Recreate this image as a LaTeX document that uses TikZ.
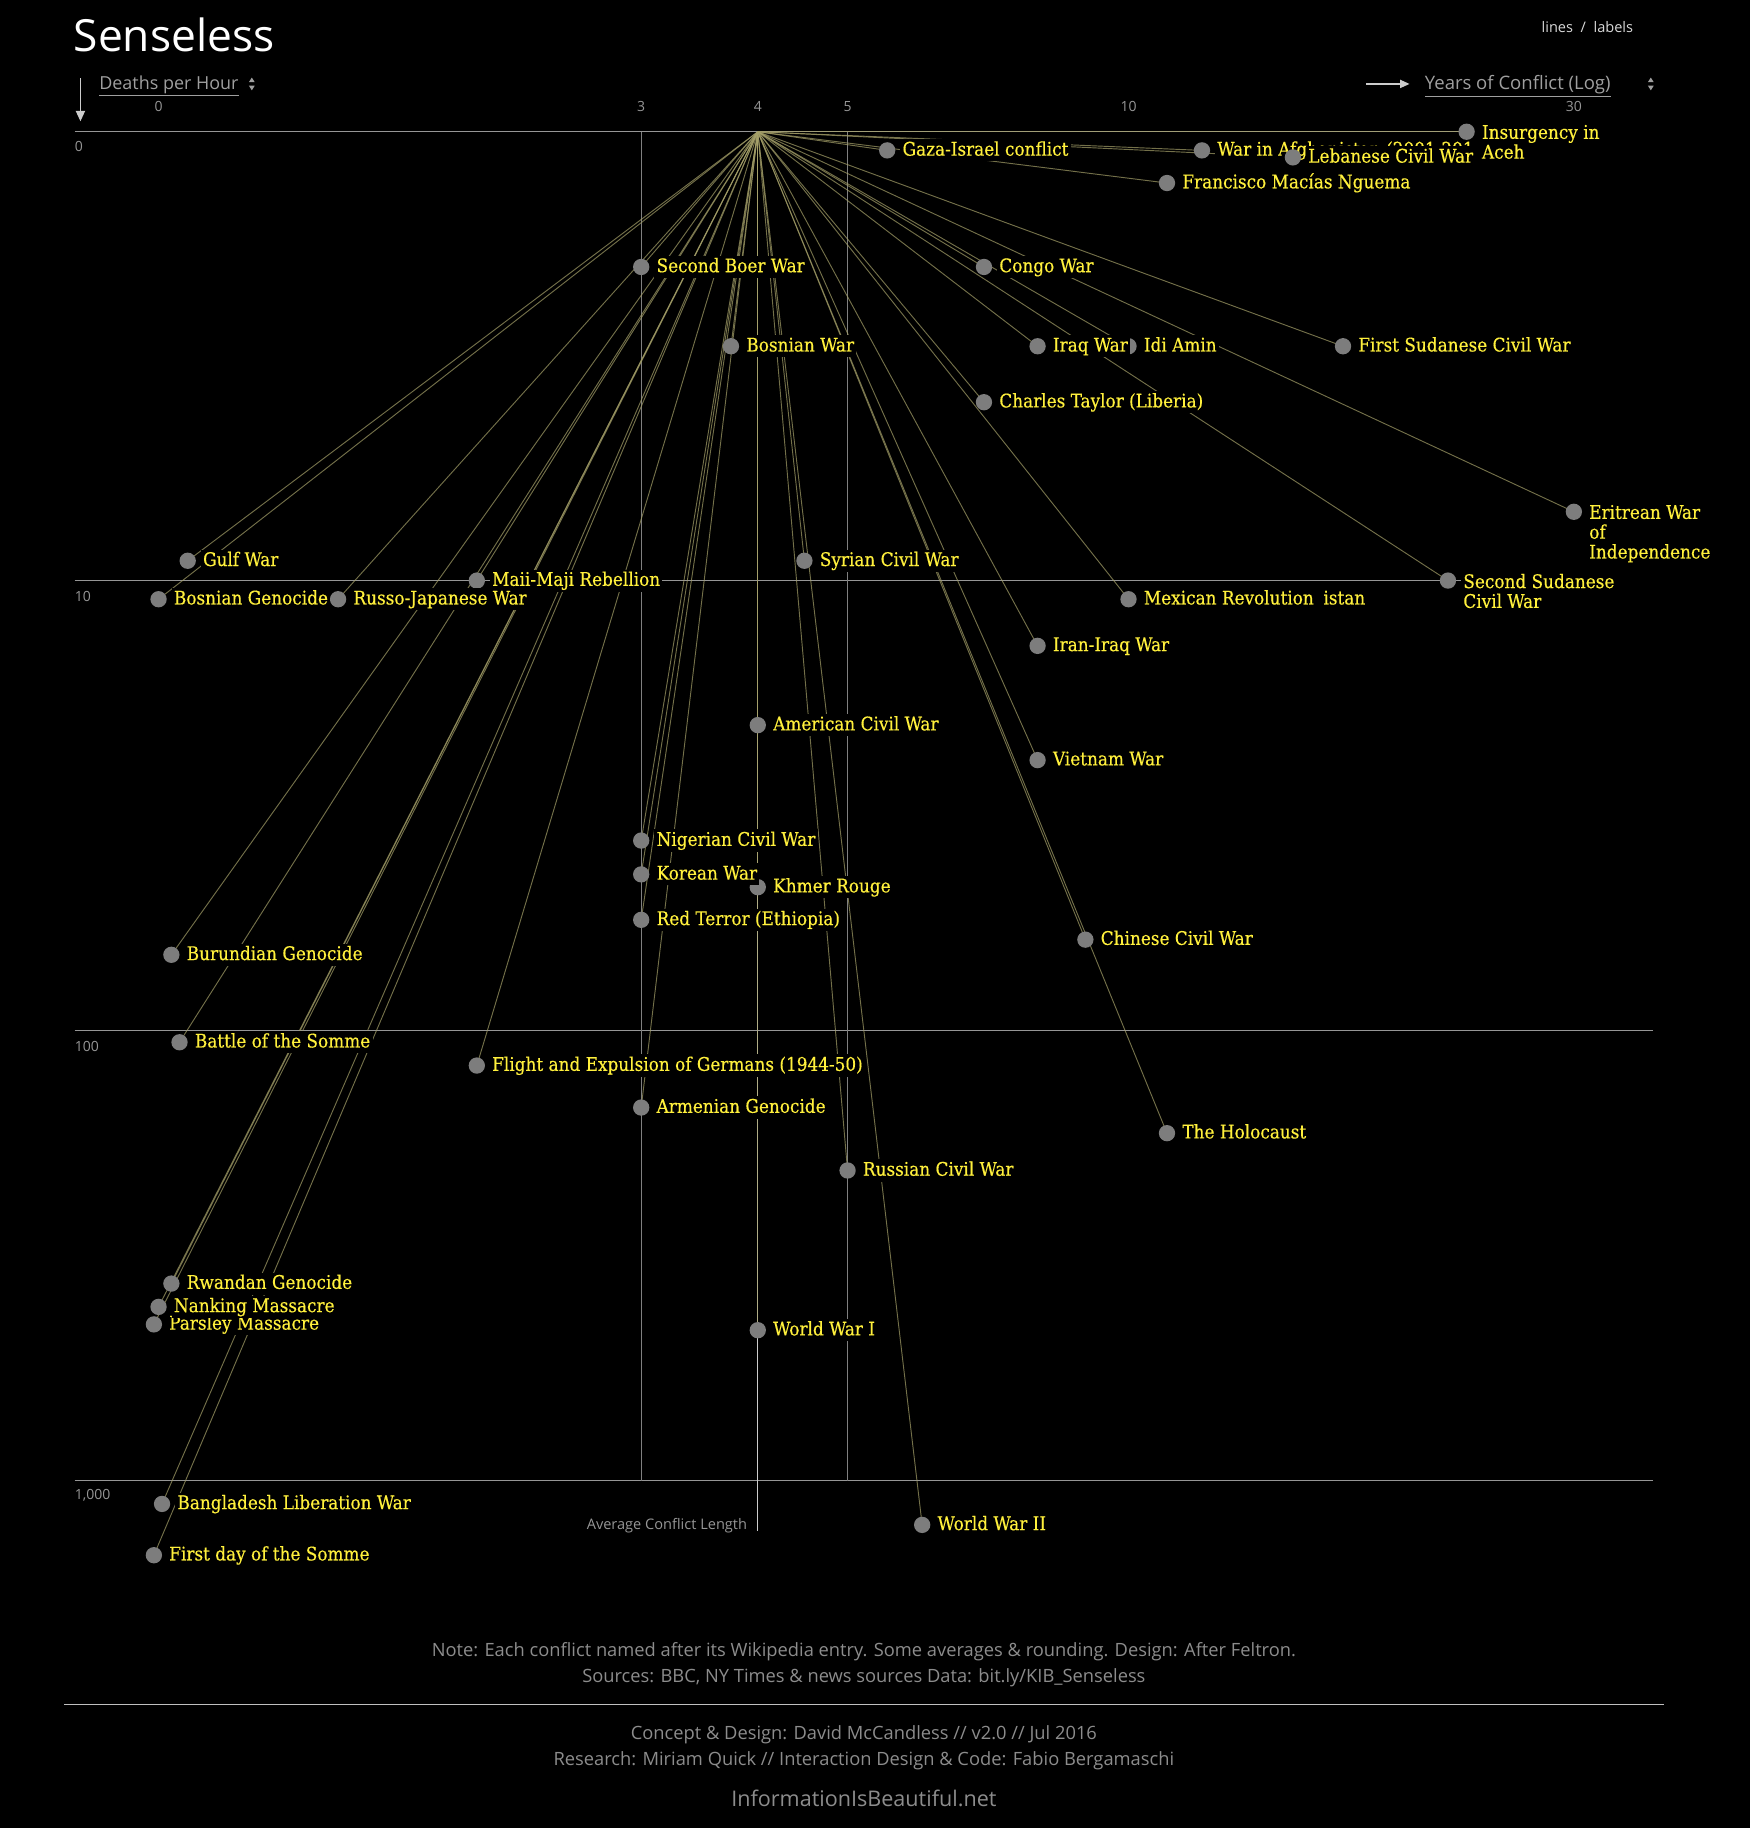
\documentclass[tikz,border=0pt]{standalone}
\usepackage{fontspec}
\setmainfont{Open Sans}
\newfontfamily\labserif[FakeBold=0.4]{DejaVu Serif Condensed}
\usetikzlibrary{arrows.meta}
\pgfdeclarelayer{bg}
\pgfdeclarelayer{rays}
\pgfsetlayers{bg,rays,main}
\definecolor{labyellow}{RGB}{255,240,60}
\definecolor{dotgrey}{RGB}{125,125,125}
\definecolor{raycol}{RGB}{165,160,105}
\definecolor{gridgrey}{RGB}{150,150,150}
\definecolor{axisgrey}{RGB}{150,150,150}
\definecolor{footgrey}{RGB}{140,140,140}
\newcommand\labfont{\labserif\fontsize{16.1pt}{17pt}\selectfont}
\tikzset{
  dot/.style={circle, fill=dotgrey, minimum size=14pt, inner sep=0pt},
  lab/.style={text=labyellow, fill=black, font=\labfont, inner sep=2pt, text height=12pt, text depth=3pt, anchor=west},
  mlab/.style={text=labyellow, fill=black, font=\labfont, inner sep=2pt, align=left, anchor=north west},
  ray/.style={draw=raycol, line width=0.8pt, opacity=0.7},
  hgrid/.style={draw=gridgrey, line width=1.1pt},
  vgrid/.style={draw=gridgrey!85!black, line width=0.8pt},
  axlab/.style={text=axisgrey, font=\fontsize{12pt}{14pt}\selectfont, inner sep=0pt},
  foot/.style={text=footgrey, font=\fontsize{15.7pt}{17pt}\selectfont, inner sep=0pt},
  hdr/.style={text=gray!75!white, font=\fontsize{15.9pt}{17pt}\selectfont, inner sep=0pt, anchor=west},
}
\newcommand\conf[4]{%
  \node[dot] (#1) at (#2,#3) {};
  \node[lab] (#1-l) at ([xshift=11pt]#1.center) {#4};
  \begin{pgfonlayer}{rays}\draw[ray] (hub) -- (#1.center);\end{pgfonlayer}}
\newcommand\confm[4]{%
  \node[dot] (#1) at (#2,#3) {};
  \node[mlab] (#1-l) at ([xshift=11pt,yshift=8pt]#1.center) {#4};
  \begin{pgfonlayer}{rays}\draw[ray] (hub) -- (#1.center);\end{pgfonlayer}}
\begin{document}
\begin{tikzpicture}[x=1pt,y=-1pt]
\begin{pgfonlayer}{bg}
  \fill[black] (0,0) rectangle (1501,1568);
  \draw[hgrid] (64,113) -- (1258,113);
  \draw[hgrid] (64,498) -- (1380,498);
  \draw[hgrid] (64,884) -- (1418,884);
  \draw[hgrid] (64,1270) -- (1418,1270);
  \draw[vgrid] (550,113) -- (550,1270);
  \draw[vgrid] (727,113) -- (727,1270);
  \draw[draw=white!80!black, line width=1.1pt] (650,113) -- (650,1313);
\end{pgfonlayer}
\coordinate (hub) at (650,113);
% header
\node[text=white, font=\fontsize{38pt}{40pt}\selectfont, anchor=base west, inner sep=0pt] (title) at (63,44) {Senseless};
\node[text=white!85!black, font=\fontsize{12.5pt}{14pt}\selectfont, anchor=east, inner sep=0pt] (toggle) at (1401,23) {lines\ \ /\ \ labels};
\node[hdr, font=\fontsize{15.4pt}{17pt}\selectfont] (dph) at (85,74) {\underline{Deaths per Hour}};
\node[hdr] (yoc) at (1222,74) {\underline{Years of Conflict (Log)}};
\coordinate (da0) at (69,67); \coordinate (da1) at (69,104);
\draw[white!80!black, line width=1pt, -{Triangle[width=8pt,length=9pt]}] (da0) -- (da1);
\coordinate (ra0) at (1172,72); \coordinate (ra1) at (1209,72);
\draw[white!80!black, line width=1pt, -{Triangle[width=7pt,length=8pt]}] (ra0) -- (ra1);
\fill[gray!75!white] (213.5,70.5) -- (218.5,70.5) -- (216,66.5) -- cycle;
\fill[gray!75!white] (213.5,73.5) -- (218.5,73.5) -- (216,77.5) -- cycle;
\fill[gray!75!white] (1413.5,70.5) -- (1418.5,70.5) -- (1416,66.5) -- cycle;
\fill[gray!75!white] (1413.5,73.5) -- (1418.5,73.5) -- (1416,77.5) -- cycle;
% axis labels
\node[axlab] (x0) at (136,91) {0};
\node[axlab] (x3) at (550,91) {3};
\node[axlab] (x4) at (650,91) {4};
\node[axlab] (x5) at (727,91) {5};
\node[axlab] (x10) at (968,91) {10};
\node[axlab] (x30) at (1350,91) {30};
\node[axlab, anchor=west] (y0) at (64,126) {0};
\node[axlab, anchor=west] (y10) at (64,512) {10};
\node[axlab, anchor=west] (y100) at (64,898) {100};
\node[axlab, anchor=west] (y1000) at (64,1283) {1,000};
\node[axlab, anchor=east, font=\fontsize{12.5pt}{14pt}\selectfont] (avg) at (641,1309) {Average Conflict Length};
% conflicts
\conf{gaza}{761}{129}{Gaza-Israel conflict}
\conf{afgh}{1031}{129}{War in Afghanistan (2001-2014)}
\conf{leb}{1109}{135}{Lebanese Civil War}
\node[dot] (aceh) at (1258,113) {};
\node[mlab, inner xsep=6pt] (aceh-l) at ([xshift=7pt,yshift=8pt]aceh.center) {Insurgency in\\Aceh};
\begin{pgfonlayer}{rays}\draw[ray] (hub) -- (aceh.center);\end{pgfonlayer}
\conf{fmn}{1001}{157}{Francisco Macías Nguema}
\conf{boer}{550}{229}{Second Boer War}
\conf{congo}{844}{229}{Congo War}
\conf{bosw}{627}{297}{Bosnian War}
\conf{idi}{968}{297}{Idi Amin}
\conf{iraq}{890}{297}{Iraq War}
\conf{fsud}{1152}{297}{First Sudanese Civil War}
\conf{ctay}{844}{345}{Charles Taylor (Liberia)}
\confm{erit}{1350}{439}{Eritrean War\\of\\Independence}
\conf{gulf}{161}{481}{Gulf War}
\conf{syr}{690}{481}{Syrian Civil War}
\conf{maji}{409}{498}{Maii-Maji Rebellion}
\confm{ssud}{1242}{498}{Second Sudanese\\Civil War}
\conf{russo}{290}{514}{Russo-Japanese War}
\conf{bosg}{136}{514}{Bosnian Genocide}
\node[lab] (sov-l) at (1133,514) {istan};
\conf{mex}{968}{514}{Mexican Revolution}
\conf{iran}{890}{554}{Iran-Iraq War}
\conf{amer}{650}{622}{American Civil War}
\conf{viet}{890}{652}{Vietnam War}
\conf{nig}{550}{721}{Nigerian Civil War}
\conf{khmer}{650}{761}{Khmer Rouge}
\conf{korea}{550}{750}{Korean War}
\conf{red}{550}{789}{Red Terror (Ethiopia)}
\conf{chin}{931}{806}{Chinese Civil War}
\conf{buru}{147}{819}{Burundian Genocide}
\conf{somme}{154}{894}{Battle of the Somme}
\conf{flight}{409}{914}{Flight and Expulsion of Germans (1944-50)}
\conf{arm}{550}{950}{Armenian Genocide}
\conf{holo}{1001}{972}{The Holocaust}
\conf{rcw}{727}{1004}{Russian Civil War}
\conf{rwa}{147}{1101}{Rwandan Genocide}
\conf{pars}{132}{1136}{Parsley Massacre}
\conf{nank}{136}{1121}{Nanking Massacre}
\conf{ww1}{650}{1141}{World War I}
\conf{bang}{139}{1290}{Bangladesh Liberation War}
\conf{ww2}{791}{1308}{World War II}
\conf{fds}{132}{1334}{First day of the Somme}
% footer
\node[foot] (note) at (741,1417) {Note: Each conflict named after its Wikipedia entry. Some averages \& rounding. Design: After Feltron.};
\node[foot] (src) at (741,1439) {Sources: BBC, NY Times \& news sources Data: bit.ly/KIB\_Senseless};
\coordinate (r0) at (55,1462); \coordinate (r1) at (1427,1462);
\draw[white!75!black, line width=1pt] (r0) -- (r1);
\node[foot] (concept) at (741,1488) {Concept \& Design: David McCandless // v2.0 // Jul 2016};
\node[foot] (research) at (741,1510) {Research: Miriam Quick // Interaction Design \& Code: Fabio Bergamaschi};
\node[foot, font=\fontsize{18.5pt}{21pt}\selectfont, text=gray!90!white] (iib) at (741,1543) {InformationIsBeautiful.net};
\end{tikzpicture}
\end{document}
